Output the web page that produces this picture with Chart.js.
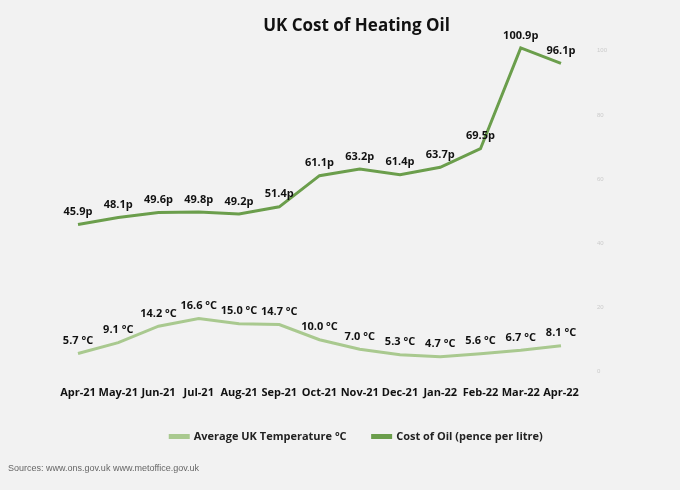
<!DOCTYPE html>
<html>
<head>
<meta charset="utf-8">
<script src="https://cdn.jsdelivr.net/npm/chart.js@4"></script>
<style>
  body { margin: 0; background: #f2f2f2; }
  #wrap { position: relative; width: 680px; height: 490px; }
  #src { position: absolute; left: 8px; top: 463px; font: 9px "Liberation Sans", sans-serif; color: #666; }
</style>
</head>
<body>
<div id="wrap">
  <canvas id="chart" width="680" height="490"></canvas>
  <div id="src">Sources: www.ons.gov.uk www.metoffice.gov.uk</div>
</div>
<script>
const months = ['Apr-21', 'May-21', 'Jun-21', 'Jul-21', 'Aug-21', 'Sep-21', 'Oct-21', 'Nov-21', 'Dec-21', 'Jan-22', 'Feb-22', 'Mar-22', 'Apr-22'];
const temperature = [5.7, 9.1, 14.2, 16.6, 15.0, 14.7, 10.0, 7.0, 5.3, 4.7, 5.6, 6.7, 8.1];
const oilCost = [45.9, 48.1, 49.6, 49.8, 49.2, 51.4, 61.1, 63.2, 61.4, 63.7, 69.5, 100.9, 96.1];
const axisTicks = [0, 20, 40, 60, 80, 100];

const pointLabels = {
  id: 'pointLabels',
  afterDatasetsDraw(chart) {
    const ctx = chart.ctx;
    ctx.save();
    ctx.font = 'bold 11px "Open Sans", sans-serif';
    ctx.fillStyle = '#111';
    ctx.textAlign = 'center';
    ctx.textBaseline = 'bottom';
    chart.data.datasets.forEach((ds, i) => {
      chart.getDatasetMeta(i).data.forEach((pt, j) => {
        const v = ds.data[j];
        const txt = i === 0 ? v.toFixed(1) + ' °C' : v.toFixed(1) + 'p';
        ctx.fillText(txt, pt.x, pt.y - 7);
      });
    });
    ctx.restore();
  }
};

new Chart(document.getElementById('chart').getContext('2d'), {
  type: 'line',
  data: {
    labels: months,
    datasets: [{
      label: 'Average UK Temperature °C',
      data: temperature,
      borderColor: '#a9c98f',
      backgroundColor: '#a9c98f',
      borderWidth: 3,
      pointRadius: 0,
    }, {
      label: 'Cost of Oil (pence per litre)',
      data: oilCost,
      borderColor: '#6b9e4c',
      backgroundColor: '#6b9e4c',
      borderWidth: 3,
      pointRadius: 0,
    }],
  },
  options: {
    responsive: false,
    animation: false,
    layout: { padding: { left: 78, right: 45, top: 4, bottom: 38 } },
    plugins: {
      title: {
        display: true,
        text: 'UK Cost of Heating Oil',
        color: '#111',
        font: { size: 17, weight: 'bold', family: '"Open Sans", sans-serif' },
        padding: { top: 12, bottom: 8 },
      },
      legend: {
        position: 'bottom',
        labels: {
          boxWidth: 18, boxHeight: 2, color: '#222',
          font: { size: 11, weight: 'bold', family: '"Open Sans", sans-serif' },
          padding: 26,
        },
      },
    },
    scales: {
      x: {
        grid: { display: false },
        border: { display: false },
        offset: false,
        ticks: { color: '#111', font: { size: 11, weight: 'bold', family: '"Open Sans", sans-serif' }, maxRotation: 0, autoSkip: false, padding: 6 },
      },
      y: {
        position: 'right',
        min: 0,
        max: 102,
        grid: { display: false },
        border: { display: false },
        afterBuildTicks(axis) { axis.ticks = axisTicks.map((v) => ({ value: v })); },
        ticks: { color: '#ccc', font: { size: 6 }, padding: 28 },
      },
    },
  },
  plugins: [pointLabels],
});
</script>
</body>
</html>
